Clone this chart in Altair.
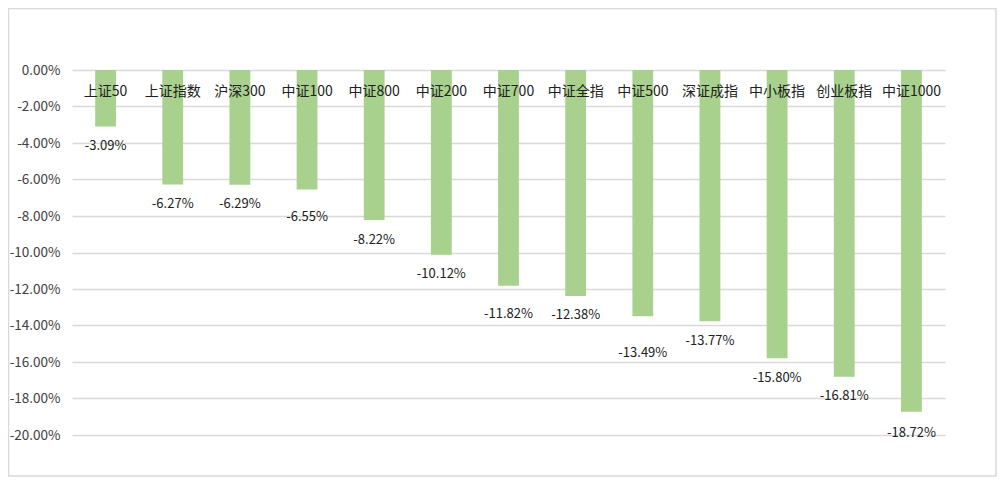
import altair as alt
import pandas as pd

categories = ["上证50", "上证指数", "沪深300", "中证100", "中证800", "中证200", "中证700",
              "中证全指", "中证500", "深证成指", "中小板指", "创业板指", "中证1000"]
values = [-3.09, -6.27, -6.29, -6.55, -8.22, -10.12, -11.82, -12.38, -13.49, -13.77, -15.80, -16.81, -18.72]
tick_values = [-20, -18, -16, -14, -12, -10, -8, -6, -4, -2, 0]
# extra downward nudge (px) of individual data labels, as placed in the original
label_nudge = [0, 0, 0, 8, 0, 0, 9, 0, 17, 0, 0, 0, 2]

df = pd.DataFrame({"cat": categories, "val": [v / 100 for v in values], "nudge": label_nudge})

W, H = 873, 365
FONT = "Noto Sans CJK SC"
PX_PER_UNIT = H / 0.20

x = alt.X("cat:N", sort=categories,
          scale=alt.Scale(paddingInner=0.69, paddingOuter=0.345), axis=None)

yscale = alt.Scale(domain=[-0.20, 0], nice=False)
yaxis = alt.Axis(format=".2%", values=[t / 100 for t in tick_values],
                 title=None, domain=False, ticks=False, labelPadding=12,
                 labelOverlap=False, tickCount=11,
                 gridColor="#D9D9D9", gridWidth=1.3, labelFontSize=13.5,
                 labelColor="#404040", labelFont=FONT)
y = alt.Y("val:Q", scale=yscale, axis=yaxis)

base = alt.Chart(df)

bars = base.mark_bar(color="#A9D18E").encode(x=x, y=y)

cat_labels = base.mark_text(dy=22, fontSize=14, font=FONT, color="#202020",
                            baseline="middle").encode(
    x=x, y=alt.Y(datum=0, type="quantitative", scale=yscale, axis=yaxis), text="cat:N")

val_labels = base.transform_calculate(
    lab=f"datum.val - datum.nudge / {PX_PER_UNIT}"
).mark_text(dy=19.5, fontSize=13, font=FONT, color="#202020",
            baseline="middle").encode(
    x=x, y=alt.Y("lab:Q", scale=yscale, axis=yaxis),
    text=alt.Text("val:Q", format=".2%"))

border = alt.Chart(pd.DataFrame({"a": [0]})).mark_rect(
    fill=None, stroke="#D9D9D9", strokeWidth=1.5).encode(
    x=alt.value(-63.5), x2=alt.value(W + 51), y=alt.value(-61.5), y2=alt.value(H + 41))

chart = alt.layer(bars, cat_labels, val_labels, border).properties(
    width=W, height=H,
    background="white",
    autosize=alt.AutoSizeParams(type="none"),
    padding={"left": 64, "top": 62, "right": 52, "bottom": 42},
).configure_view(stroke=None)

chart.save("out.html", embed_options={
    "renderer": "svg", "actions": False,
    "formatLocale": {"decimal": ".", "thousands": ",", "grouping": [3],
                     "currency": ["$", ""], "minus": "-"},
})
